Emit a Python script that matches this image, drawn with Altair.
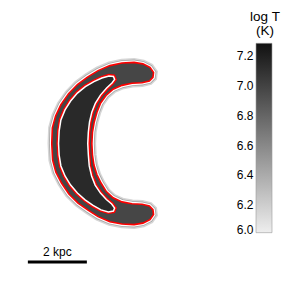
import altair as alt
import pandas as pd

# Outer crescent contour (kpc)
outer_x = [-2.72, -2.70, -2.59, -2.41, -2.15, -1.85, -1.51, -1.15, -0.75, -0.34, 0.07, 0.37, 0.61, 0.73, 0.71, 0.59, 0.34, 0.00, -0.34, -0.64, -0.88, -1.07, -1.19, -1.28, -1.34, -1.36,
           -1.34, -1.29, -1.19, -1.05, -0.87, -0.64, -0.34, 0.00, 0.34, 0.59, 0.71, 0.73, 0.61, 0.37, 0.07, -0.34, -0.75, -1.15, -1.49, -1.83, -2.14, -2.39, -2.58, -2.69]
outer_y = [0.00, 0.53, 0.93, 1.32, 1.69, 2.00, 2.25, 2.47, 2.64, 2.73, 2.75, 2.70, 2.58, 2.41, 2.24, 2.12, 2.06, 2.04, 1.97, 1.84, 1.63, 1.36, 1.05, 0.73, 0.39, 0.00,
           -0.39, -0.73, -1.05, -1.34, -1.63, -1.84, -1.98, -2.04, -2.06, -2.12, -2.24, -2.41, -2.58, -2.70, -2.75, -2.73, -2.65, -2.48, -2.26, -2.02, -1.71, -1.34, -0.97, -0.56]

# Inner crescent contour (kpc)
inner_x = [-2.49, -2.47, -2.41, -2.27, -2.08, -1.85, -1.58, -1.29, -1.02, -0.78, -0.63, -0.59, -0.68, -0.86, -1.07, -1.24, -1.36, -1.44, -1.48, -1.50,
           -1.48, -1.45, -1.37, -1.25, -1.07, -0.87, -0.69, -0.59, -0.63, -0.80, -1.05, -1.32, -1.59, -1.85, -2.08, -2.27, -2.41, -2.47]
inner_y = [0.00, 0.42, 0.80, 1.14, 1.44, 1.71, 1.93, 2.10, 2.22, 2.29, 2.27, 2.17, 2.05, 1.88, 1.64, 1.37, 1.07, 0.73, 0.39, 0.00,
           -0.39, -0.76, -1.10, -1.41, -1.68, -1.90, -2.05, -2.19, -2.29, -2.32, -2.25, -2.10, -1.91, -1.68, -1.41, -1.10, -0.76, -0.39]

logT_outer = 6.93
logT_inner = 7.12

scalebar_x = [-3.53, -1.53]
scalebar_y = [-4.02, -4.02]
scalebar_label = ["2 kpc"]
scalebar_label_x = [-2.53]
scalebar_label_y = [-3.81]

colorbar_ticks = [6.0, 6.2, 6.4, 6.6, 6.8, 7.0, 7.2]
colorbar_range = [6.01, 7.285]
grey_range = ["#eeeeee", "#111111"]
colorbar_title = ["log T", "(K)"]


def polygon(xs, ys, props):
    coords = [[x, y] for x, y in zip(xs, ys)]
    coords.append(coords[0])
    return {"type": "Feature", "properties": props,
            "geometry": {"type": "Polygon", "coordinates": [coords]}}


def fc(features):
    return alt.InlineData(values={"type": "FeatureCollection", "features": features},
                          format=alt.DataFormat(property="features", type="json"))


outer_data = fc([polygon(outer_x, outer_y, {"logT": logT_outer})])
inner_data = fc([polygon(inner_x, inner_y, {"logT": logT_inner})])
bar_data = fc([{"type": "Feature", "properties": {},
                "geometry": {"type": "LineString",
                             "coordinates": [[x, y] for x, y in zip(scalebar_x, scalebar_y)]}}])
label_df = pd.DataFrame({"x": scalebar_label_x, "y": scalebar_label_y, "label": scalebar_label})

proj = dict(type="identity", reflectY=True, scale=29.5, translate=[124, 135.5])

color_scale = alt.Scale(domain=colorbar_range, range=grey_range)


def geo(data, **kw):
    return alt.Chart(data).mark_geoshape(**kw).project(**proj)


halo1 = geo(outer_data, filled=False, stroke="#d6d6d6", strokeWidth=8.5)
halo2 = geo(outer_data, filled=False, stroke="#a9a9a9", strokeWidth=5.6)
halo3 = geo(outer_data, filled=False, stroke="white", strokeWidth=3.8)
outer_fill = geo(outer_data, strokeWidth=0).encode(
    color=alt.Color("properties.logT:Q", scale=color_scale, legend=None))
inner_halo = geo(inner_data, filled=False, stroke="#404040", strokeWidth=4)
outer_red = geo(outer_data, filled=False, stroke="#ff0000", strokeWidth=1.6)
inner_red = geo(inner_data, filled=False, stroke="#ff0000", strokeWidth=4.2)
inner_fill = geo(inner_data, stroke="white", strokeWidth=1.5).encode(
    color=alt.Color("properties.logT:Q", scale=color_scale, legend=None))
bar = geo(bar_data, filled=False, stroke="black", strokeWidth=3, strokeCap="butt")
label = alt.Chart(label_df).mark_text(font="Liberation Sans", fontSize=12, color="black",
                                      baseline="alphabetic", align="center").encode(
    longitude="x:Q", latitude="y:Q", text="label:N").project(**proj)

# colour bar
cb_df = pd.DataFrame({"lo": [colorbar_range[0]], "hi": [colorbar_range[1]]})
cb_scale = alt.Scale(domain=[5.671, 7.523], zero=False, nice=False)
colorbar = alt.Chart(cb_df).mark_rect(
    fill=alt.Gradient(gradient="linear", x1=0, y1=1, x2=0, y2=0,
                      stops=[alt.GradientStop(offset=0, color=grey_range[0]),
                             alt.GradientStop(offset=1, color=grey_range[1])]),
    stroke="#9a9a9a", strokeWidth=0.6).encode(
    x=alt.value(248), x2=alt.value(264),
    y=alt.Y("lo:Q", scale=cb_scale, axis=alt.Axis(
        orient="left", offset=-248, values=colorbar_ticks, format=".1f", title=None,
        ticks=False, domain=False, grid=False, labelPadding=3,
        labelFont="Liberation Sans", labelFontSize=12, labelColor="black",
        labelOffset={"condition": {"test": "datum.value < 6.05", "value": -5}, "value": 0})),
    y2="hi:Q")
cb_title = alt.Chart(cb_df).mark_text(
    text=colorbar_title, font="Liberation Sans", fontSize=13.5, color="black",
    align="center", baseline="alphabetic", lineHeight=14).encode(
    x=alt.value(257), y=alt.value(13))

chart = alt.layer(halo1, halo2, halo3, outer_fill, inner_halo, outer_red, inner_red,
                  inner_fill, bar, label, colorbar, cb_title).properties(
    width=275, height=275, autosize=alt.AutoSizeParams(type="none"), padding=0,
    background="white").configure_view(stroke=None)

chart.save("out.html", embed_options={"renderer": "svg", "actions": False})
